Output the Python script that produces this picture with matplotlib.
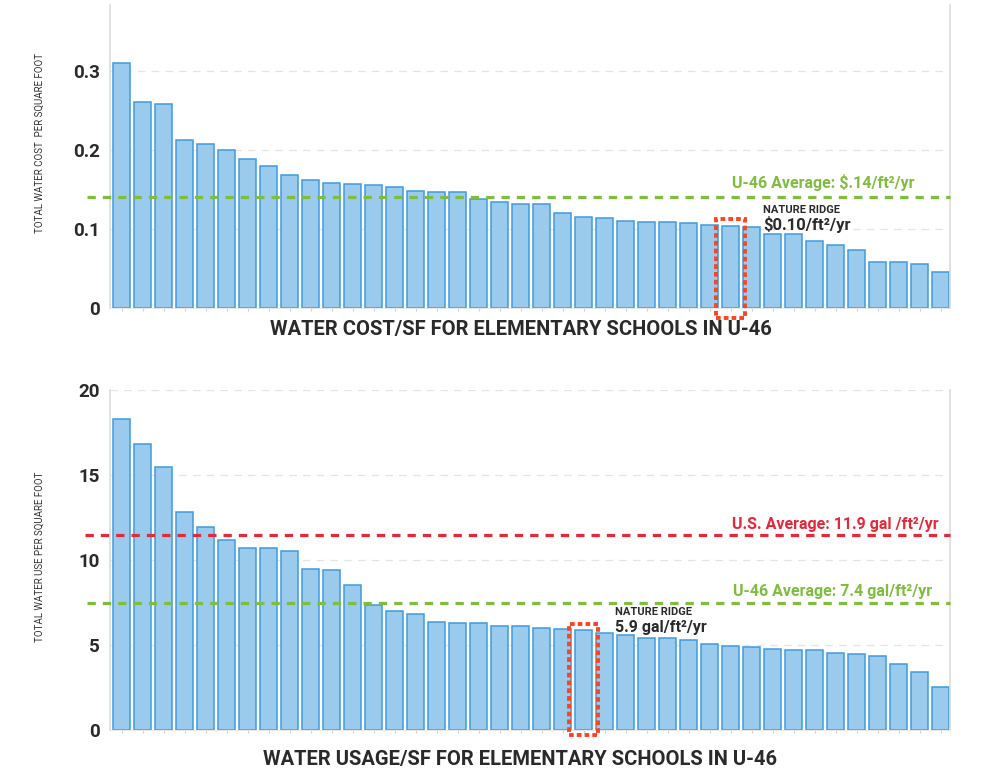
import numpy as np
import matplotlib
matplotlib.use("Agg")
import matplotlib.pyplot as plt
from matplotlib.patches import Rectangle

plt.rcParams['font.family'] = ['Roboto', 'DejaVu Sans']

# water cost per square foot, 40 elementary schools (sorted)
cost = [0.309, 0.261, 0.258, 0.2125, 0.207, 0.200, 0.1885, 0.180, 0.1687, 0.162,
        0.158, 0.157, 0.1557, 0.153, 0.1478, 0.147, 0.1465, 0.1377, 0.1347, 0.1318,
        0.1318, 0.1204, 0.1154, 0.1137, 0.1103, 0.1095, 0.109, 0.1082, 0.1053, 0.1036,
        0.1024, 0.0935, 0.0935, 0.0855, 0.0797, 0.0734, 0.0583, 0.0583, 0.0557, 0.046]
# water use (gal) per square foot
usage = [18.27, 16.84, 15.45, 12.82, 11.94, 11.16, 10.69, 10.69, 10.51, 9.49,
         9.41, 8.51, 7.33, 6.98, 6.82, 6.33, 6.27, 6.27, 6.10, 6.12,
         6.02, 5.94, 5.88, 5.69, 5.57, 5.41, 5.41, 5.29, 5.06, 4.94,
         4.88, 4.75, 4.71, 4.71, 4.51, 4.49, 4.35, 3.86, 3.41, 2.51]

cost_avg = 0.14
cost_nr = 29          # index of Nature Ridge in cost chart
usage_us_avg = 11.45  # line position as drawn
usage_avg = 7.45
usage_nr = 22

cost_ticks = [0, 0.1, 0.2, 0.3]
cost_ticklabels = ['0', '0.1', '0.2', '0.3']
usage_ticks = [0, 5, 10, 15, 20]

fill = '#9bcbec'
edge = '#3f9be0'
green = '#7fbd3f'
red = '#e5283a'
boxc = '#ff4220'
dark = '#2a2a2a'

fig = plt.figure(figsize=(9.81, 7.71), dpi=100)
ax1 = fig.add_axes([0.1121, 0.5999, 0.8563, 0.3936])
ax2 = fig.add_axes([0.1121, 0.0532, 0.8563, 0.4410])


def style(ax, vals, ylim, ticks, ticklabels):
    x = np.arange(len(vals))
    ax.bar(x, vals, width=0.83, color=fill, edgecolor=edge, linewidth=1.1, zorder=2)
    ax.set_xlim(-0.55, len(vals) - 0.55)
    ax.set_ylim(*ylim)
    ax.set_yticks(ticks)
    ax.set_yticklabels(ticklabels)
    ax.set_xticks(x)
    ax.set_xticklabels([])
    ax.tick_params(axis='x', length=2.5, color='#d0d0d0', width=0.8)
    ax.tick_params(axis='y', length=0, pad=7, labelsize=13.5, labelcolor=dark)
    for lab in ax.get_yticklabels():
        lab.set_fontweight('bold')
    for t in ticks[1:]:
        ax.axhline(t, color='#e4e4e4', lw=0.9, ls=(0, (6, 5)), zorder=1)
    ax.spines['top'].set_visible(False)
    for s in ['left', 'right']:
        ax.spines[s].set_color('#dcdcdc')
        ax.spines[s].set_linewidth(1.2)
    ax.spines['bottom'].set_color('#e8e8e8')
    ax.spines['bottom'].set_linewidth(0.8)


style(ax1, cost, (0, 0.3827), cost_ticks, cost_ticklabels)
style(ax2, usage, (0, 20), usage_ticks, [str(t) for t in usage_ticks])

# average lines
ax1.axhline(cost_avg, xmin=-0.027, xmax=1, color=green, lw=2.3, ls=(0, (2.6, 2.2)), zorder=3, clip_on=False)
ax2.axhline(usage_us_avg, xmin=-0.03, xmax=1, color=red, lw=2.3, ls=(0, (2.6, 2.2)), zorder=3, clip_on=False)
ax2.axhline(usage_avg, xmin=-0.027, xmax=1, color=green, lw=2.3, ls=(0, (2.6, 2.2)), zorder=3, clip_on=False)

lab = dict(xycoords=('axes fraction', 'data'), textcoords='offset points',
           ha='right', va='baseline', fontsize=11.5, fontweight='bold')
ax1.annotate('U-46 Average: $.14/ft²/yr', xy=(0.958, cost_avg), xytext=(0, 6.5), color=green, **lab)
ax2.annotate('U.S. Average: 11.9 gal /ft²/yr', xy=(0.987, usage_us_avg), xytext=(0, 4.5), color=red, **lab)
ax2.annotate('U-46 Average: 7.4 gal/ft²/yr', xy=(0.979, usage_avg), xytext=(0, 5.5), color=green, **lab)

# Nature Ridge highlight
ax1.text(30.56, 0.120, 'NATURE RIDGE', fontsize=8, fontweight='bold', color=dark, va='baseline')
ax1.text(30.56, 0.099, '$0.10/ft²/yr', fontsize=12, fontweight='bold', color=dark, va='baseline')
ax2.text(23.5, 6.76, 'NATURE RIDGE', fontsize=8, fontweight='bold', color=dark, va='baseline')
ax2.text(23.5, 5.78, '5.9 gal/ft²/yr', fontsize=11.5, fontweight='bold', color=dark, va='baseline')

ax1.add_patch(Rectangle((cost_nr - 0.71, -0.012), 1.42, cost[cost_nr] + 0.0215,
                        fill=False, edgecolor=boxc, lw=2.8, ls=(0, (1.2, 0.8)),
                        zorder=4, clip_on=False))
ax2.add_patch(Rectangle((usage_nr - 0.71, -0.3), 1.42, usage[usage_nr] + 0.66,
                        fill=False, edgecolor=boxc, lw=2.8, ls=(0, (1.2, 0.8)),
                        zorder=4, clip_on=False))

# axis titles
fig.text(40 / 981, 1 - 142.5 / 771, 'TOTAL WATER COST  PER SQUARE FOOT', rotation=90,
         ha='center', va='center', fontsize=7, color='#333333')
fig.text(40 / 981, 1 - 556.7 / 771, 'TOTAL WATER USE PER SQUARE FOOT', rotation=90,
         ha='center', va='center', fontsize=7, color='#333333')
fig.text(521 / 981, 1 - 335 / 771, 'WATER COST/SF FOR ELEMENTARY SCHOOLS IN U-46',
         ha='center', va='baseline', fontsize=14.5, fontweight='bold', color=dark)
fig.text(520 / 981, 1 - 765 / 771, 'WATER USAGE/SF FOR ELEMENTARY SCHOOLS IN U-46',
         ha='center', va='baseline', fontsize=14.5, fontweight='bold', color=dark)

fig.savefig('out.png', dpi=100)
